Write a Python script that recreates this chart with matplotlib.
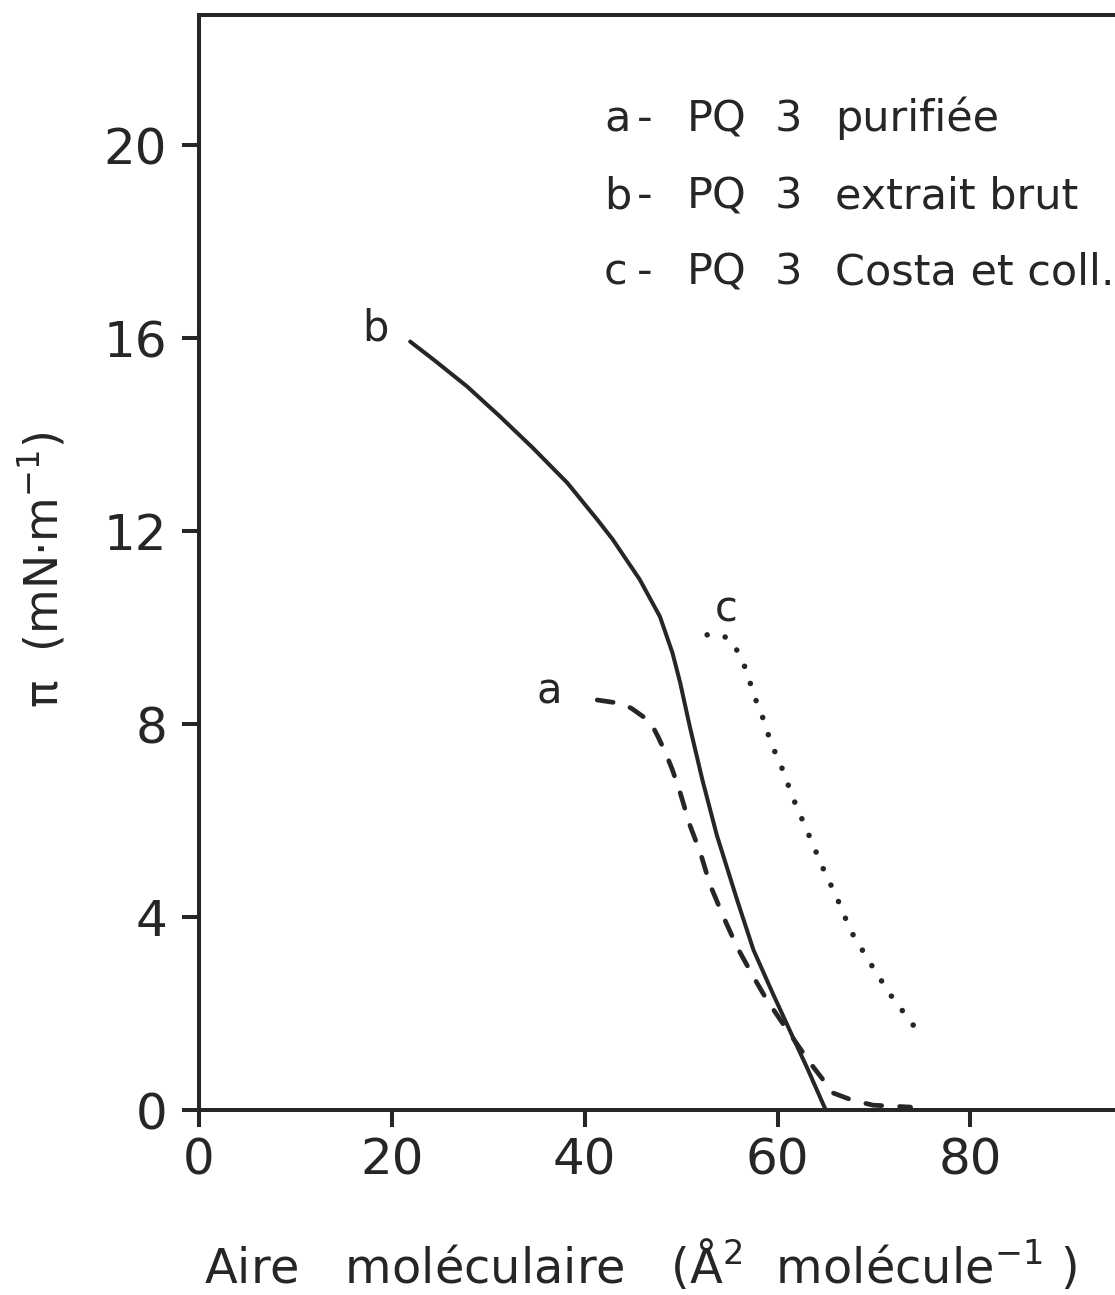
import matplotlib
matplotlib.use("Agg")
import matplotlib.pyplot as plt

# Surface pressure isotherms (pi vs molecular area)
# a - purified PQ 3 (dashed)
area_a = [41.3, 44.0, 44.9, 46.8, 47.6, 48.4, 49.1, 49.9, 50.9, 52.0, 53.0, 54.4,
          55.8, 57.5, 58.9, 61.0, 63.4, 65.8, 67.8, 69.9, 73.8]
pi_a = [8.5, 8.42, 8.32, 8.05, 7.74, 7.4, 7.05, 6.58, 5.91, 5.33, 4.67, 4.0,
        3.38, 2.76, 2.28, 1.66, 0.97, 0.35, 0.2, 0.1, 0.06]

# b - crude PQ 3 extract (solid)
area_b = [21.9, 24.3, 27.8, 31.2, 34.6, 38.2, 41.3, 42.9, 45.7, 47.8, 49.1, 49.9,
          50.9, 52.2, 53.7, 55.8, 57.5, 59.5, 61.5, 63.1, 65.0]
pi_b = [15.93, 15.56, 15.0, 14.38, 13.73, 13.0, 12.24, 11.83, 11.0, 10.23, 9.48, 8.86,
        7.95, 6.85, 5.7, 4.36, 3.32, 2.42, 1.55, 0.86, 0.0]

# c - PQ 3 after Costa et coll. (dotted)
area_c = [52.7, 54.8, 55.6, 56.4, 57.0, 57.6, 58.3, 58.9, 59.5, 60.4, 61.6, 63.1,
          64.7, 66.2, 67.6, 69.6, 71.7, 74.0, 75.0]
pi_c = [9.85, 9.8, 9.6, 9.3, 8.96, 8.57, 8.24, 7.86, 7.53, 7.12, 6.47, 5.77,
        5.02, 4.38, 3.71, 3.05, 2.39, 1.78, 1.51]

x_ticks = [0, 20, 40, 60, 80]
y_ticks = [0, 4, 8, 12, 16, 20]

legend_letters = ["a", "b", "c"]
legend_names = ["PQ", "PQ", "PQ"]
legend_nums = ["3", "3", "3"]
legend_desc = ["purifiée", "extrait brut", "Costa et coll."]

INK = "#262626"
plt.rcParams["font.family"] = ["DejaVu Sans"]

fig = plt.figure(figsize=(11.15, 12.95), dpi=100)
W, H = 1115, 1295
ax = fig.add_axes([199 / W, 1 - 1110 / H, (W - 199) / W, (1110 - 15) / H])

ax.plot(area_b, pi_b, color=INK, lw=2.9, solid_capstyle="round", solid_joinstyle="round")
ax.plot(area_a, pi_a, color=INK, lw=3.4, linestyle=(0, (3.4, 3.8)),
        dash_capstyle="round")
ax.plot(area_c, pi_c, color=INK, lw=4.0, linestyle=(0, (0.01, 3.25)),
        dash_capstyle="round")

ax.set_xlim(0, 95)
ax.set_ylim(0, 22.7)
ax.set_xticks(x_ticks)
ax.set_yticks(y_ticks)
ax.set_xticklabels([str(v) for v in x_ticks])
ax.set_yticklabels([str(v) for v in y_ticks])

for side in ("left", "top", "bottom"):
    ax.spines[side].set_linewidth(2.9)
    ax.spines[side].set_color(INK)
ax.spines["right"].set_visible(False)

ax.tick_params(axis="both", direction="out", length=12, width=2.9, color=INK,
               labelsize=36, labelcolor=INK)
ax.tick_params(axis="y", pad=11)
ax.tick_params(axis="x", pad=7)

# curve letters
lab_kw = dict(fontsize=30, color=INK, ha="center", va="center")
ax.text(18.3, 16.2, "b", **lab_kw)
ax.text(36.3, 8.67, "a", **lab_kw)
ax.text(54.7, 10.37, "c", **lab_kw)

# key in the upper right
key_y = [20.29, 18.69, 17.12]
for yy, let, nm, num, desc in zip(key_y, legend_letters, legend_names, legend_nums, legend_desc):
    kw = dict(fontsize=31, color=INK, ha="left", va="baseline")
    ax.text(42.0, yy, let, **kw)
    ax.text(45.4, yy, "-", **kw)
    ax.text(50.6, yy, nm, **kw)
    ax.text(59.75, yy, num, **kw)
    ax.text(66.0, yy, desc, **kw)

fig.text(43 / W, 1 - 570 / H, "π  (mN·m$^{-1}$)", rotation=90, fontsize=33,
         color=INK, ha="center", va="center")
fig.text(640 / W, 1 - 1283 / H,
         "Aire   moléculaire   (Å$^{2}$  molécule$^{-1}$ )",
         fontsize=34.5, color=INK, ha="center", va="baseline")

fig.savefig("out.png", dpi=100, facecolor="white")
